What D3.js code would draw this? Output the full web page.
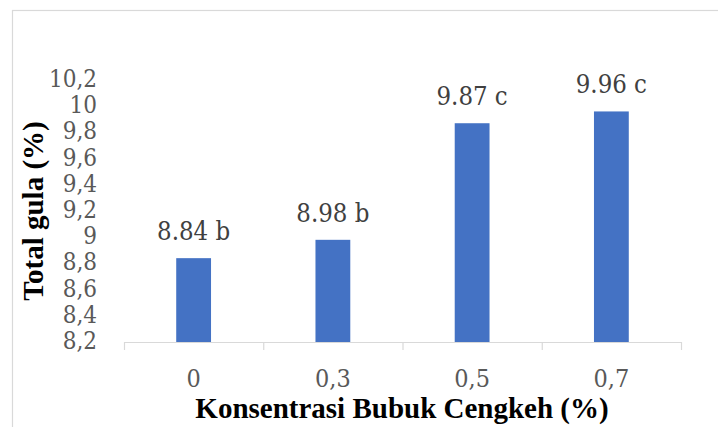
<!DOCTYPE html>
<html>
<head>
<meta charset="utf-8">
<script src="https://cdn.jsdelivr.net/npm/d3@7"></script>
<style>
  html, body { margin: 0; padding: 0; background: #fff; }
  svg { display: block; }
  .num { font-family: 'DejaVu Serif Condensed', 'DejaVu Serif', serif; font-stretch: condensed; }
  .ttl { font-family: 'Liberation Serif', 'Times New Roman', serif; font-weight: bold; }
</style>
</head>
<body>
<div id="chart"></div>
<script>
// Total sugar by clove powder concentration
const categories = ["0", "0,3", "0,5", "0,7"];
const values = [8.84, 8.98, 9.87, 9.96];
const letters = ["b", "b", "c", "c"];
const yTicks = [8.2, 8.4, 8.6, 8.8, 9.0, 9.2, 9.4, 9.6, 9.8, 10.0, 10.2];

const W = 718, H = 427;
const svg = d3.select("#chart").append("svg")
  .attr("width", W).attr("height", H);

// chart area frame
svg.append("rect")
  .attr("x", 12.5).attr("y", 10.5)
  .attr("width", W + 20).attr("height", H + 20)
  .attr("fill", "none").attr("stroke", "#d9d9d9").attr("stroke-width", 1.2);

const x = d3.scaleBand().domain(categories).range([124, 681]).paddingInner(0.75).paddingOuter(0.375);
const y = d3.scaleLinear().domain([8.2, 10.2]).range([342, 80]);

const fmtComma = d => String(Math.round(d * 10) / 10).replace(".", ",");

// y tick labels (no axis line)
svg.append("g").selectAll("text").data(yTicks).join("text")
  .attr("class", "num")
  .attr("x", 97).attr("y", d => y(d) + 7)
  .attr("text-anchor", "end")
  .attr("font-size", 24).attr("fill", "#595959")
  .text(fmtComma);

// x axis: baseline and ticks at category boundaries
const bounds = d3.range(categories.length + 1).map(i => 124 + i * x.step());
svg.append("line")
  .attr("x1", bounds[0]).attr("x2", bounds[bounds.length - 1])
  .attr("y1", y(8.2) + 0.5).attr("y2", y(8.2) + 0.5)
  .attr("stroke", "#d9d9d9").attr("stroke-width", 1.2);
svg.append("g").selectAll("line").data(bounds).join("line")
  .attr("x1", d => d + 0.5).attr("x2", d => d + 0.5)
  .attr("y1", y(8.2)).attr("y2", y(8.2) + 8)
  .attr("stroke", "#d9d9d9").attr("stroke-width", 1.2);

svg.append("g").selectAll("text").data(categories).join("text")
  .attr("class", "num")
  .attr("x", d => x(d) + x.bandwidth() / 2).attr("y", 387)
  .attr("text-anchor", "middle")
  .attr("font-size", 25).attr("fill", "#595959")
  .text(d => d);

// bars
svg.append("g").selectAll("rect").data(values).join("rect")
  .attr("x", (d, i) => x(categories[i]))
  .attr("width", x.bandwidth())
  .attr("y", d => y(d))
  .attr("height", d => y(8.2) - y(d))
  .attr("fill", "#4472C4");

// value labels
svg.append("g").selectAll("text").data(values).join("text")
  .attr("class", "num")
  .attr("x", (d, i) => x(categories[i]) + x.bandwidth() / 2)
  .attr("y", d => y(d) - 18)
  .attr("text-anchor", "middle")
  .attr("font-size", 25.5).attr("fill", "#404040")
  .text((d, i) => d.toFixed(2) + " " + letters[i]);

// axis titles
svg.append("text")
  .attr("class", "ttl")
  .attr("transform", "translate(43,211) rotate(-90)")
  .attr("text-anchor", "middle")
  .attr("font-size", 29).attr("fill", "#000")
  .text("Total gula (%)");

svg.append("text")
  .attr("class", "ttl")
  .attr("x", 402).attr("y", 418)
  .attr("text-anchor", "middle")
  .attr("font-size", 29).attr("fill", "#000")
  .text("Konsentrasi Bubuk Cengkeh (%)");
</script>
</body>
</html>
